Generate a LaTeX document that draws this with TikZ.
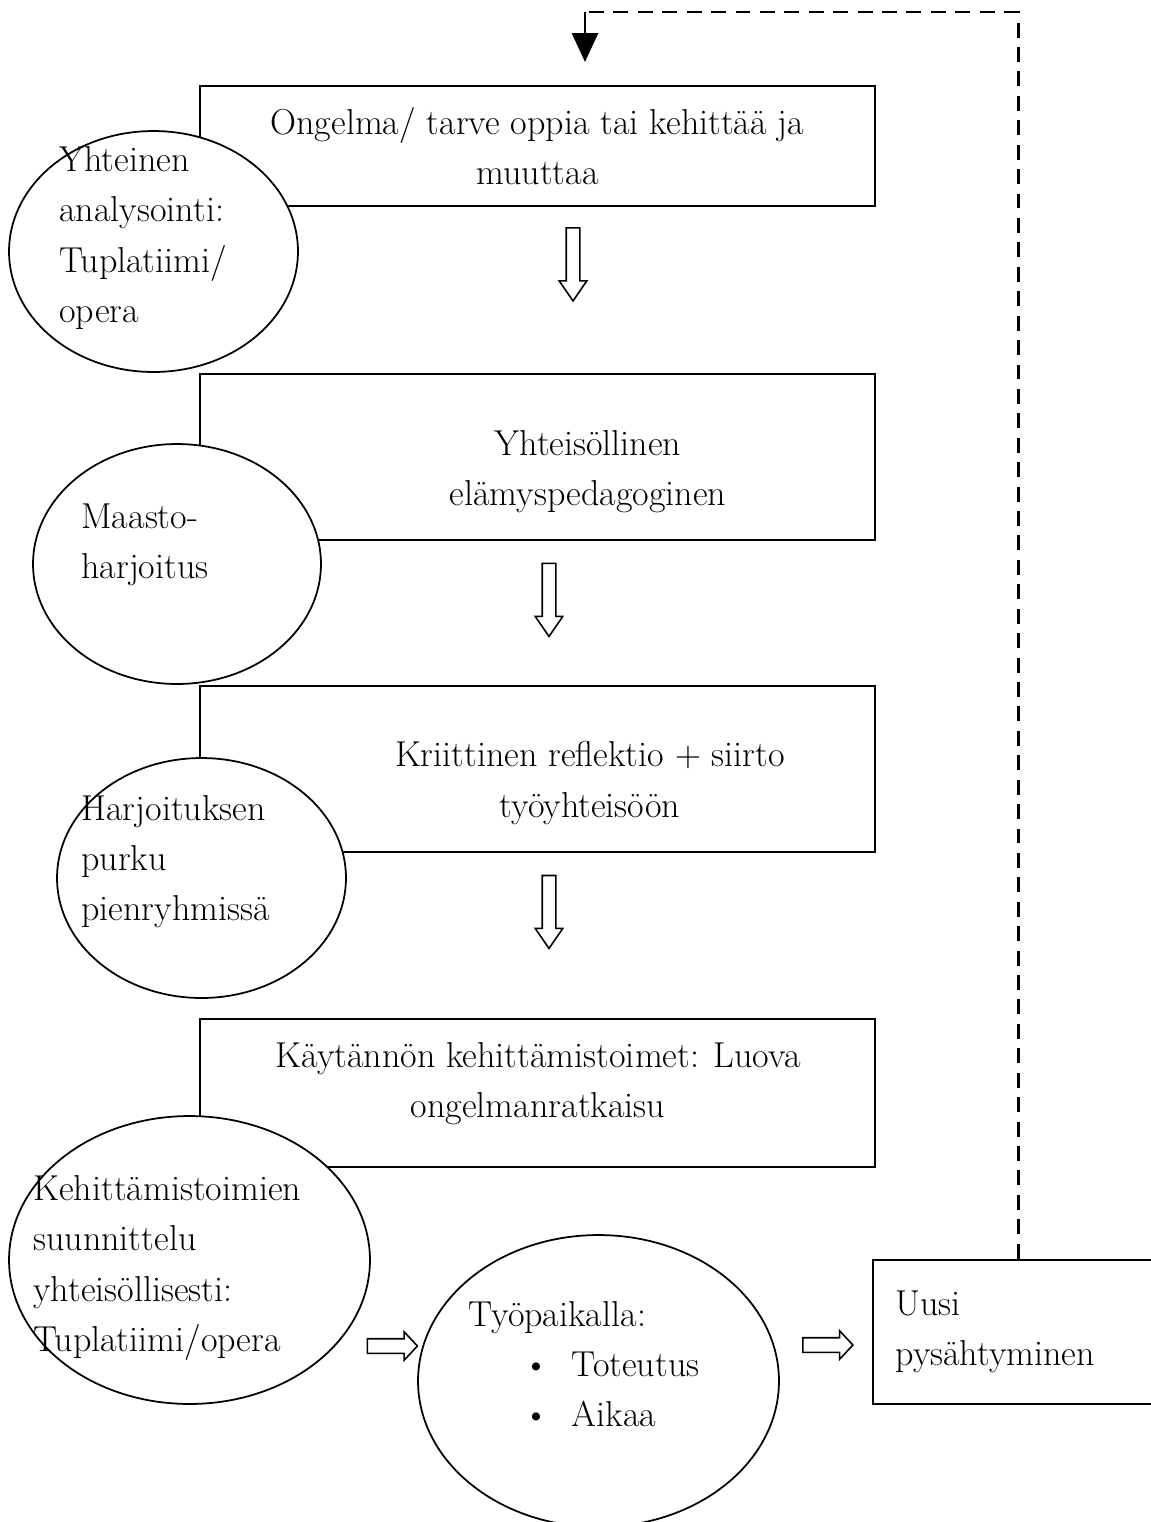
\documentclass[tikz,border=0pt]{standalone}
\usepackage{tikz}
\usetikzlibrary{arrows.meta,positioning,shapes.geometric,shapes.arrows}

\begin{document}
\begin{tikzpicture}[x=0.02cm,y=-0.02cm,font=\fontsize{20.5}{28.5}\selectfont]
\tikzset{
  box/.style={draw,line width=1.6pt,fill=white,inner sep=0pt,align=center,minimum width=13.5cm},
  oval/.style={draw,ellipse,line width=1pt,fill=white,inner sep=0pt},
  txt/.style={align=left,anchor=west,inner sep=0pt},
  midtxt/.style={align=center,inner sep=0pt},
  downarr/.style={single arrow,draw,line width=0.9pt,inner xsep=0pt,inner ysep=0.12cm,single arrow head extend=0.14cm,single arrow tip angle=69,minimum height=1.46cm,rotate=-90},
  rightarr/.style={single arrow,draw,line width=0.9pt,inner xsep=0pt,inner ysep=0.13cm,single arrow head extend=0.14cm,single arrow tip angle=94,minimum height=1cm},
  back/.style={line width=1.7pt,dash pattern=on 8.5pt off 5.4pt},
  arr/.style={-{Triangle[length=5.8mm,width=5.2mm]},line width=1.7pt}
}
\useasboundingbox (0,0) rectangle (1150,1522);

% boxes
\node(b1)[box,minimum height=2.4cm] at (537.5,146) {Ongelma/ tarve oppia tai kehittää ja\\muuttaa};
\node(b2)[box,minimum height=3.32cm] at (537.5,457) {};
\node(b3)[box,minimum height=3.32cm] at (537.5,769) {};
\node(b4)[box,minimum height=2.96cm] at (537.5,1093) {};
\node(b5)[box,minimum width=5.8cm,minimum height=2.88cm,text width=4.9cm,align=left] at (1018,1332) {Uusi\\pysähtyminen};
\node(t2)[midtxt] at (588,472) {Yhteisöllinen\\elämyspedagoginen};
\node(t3)[midtxt] at (590,783) {Kriittinen reflektio + siirto\\työyhteisöön};
\node(t4)[midtxt] at (538,1084) {Käytännön kehittämistoimet: Luova\\ongelmanratkaisu};

% ellipses
\node(e1)[oval,minimum width=5.78cm,minimum height=4.82cm] at (153.5,251.5) {};
\node(e2)[oval,minimum width=5.76cm,minimum height=4.8cm] at (177,564) {};
\node(e3)[oval,minimum width=5.78cm,minimum height=4.8cm] at (201.5,878) {};
\node(e4)[oval,minimum width=7.22cm,minimum height=5.76cm] at (189.5,1260) {};
\node(e5)[oval,minimum width=7.22cm,minimum height=5.84cm] at (598.5,1381) {};
\node(s1)[txt] at (59,238) {Yhteinen\\analysointi:\\Tuplatiimi/\\opera};
\node(s2)[txt] at (81,545) {Maasto-\\harjoitus};
\node(s3)[txt] at (81,862) {Harjoituksen\\purku\\pienryhmissä};
\node(s4)[txt] at (33,1268) {Kehittämistoimien\\suunnittelu\\yhteisöllisesti:\\Tuplatiimi/opera};
\node(s5)[txt] at (468,1364) {Työpaikalla:\\\hspace*{1.1cm}\textbullet\hspace{0.45cm}Toteutus\\\hspace*{1.1cm}\textbullet\hspace{0.45cm}Aikaa};

% hollow arrows
\node(a1)[downarr] at (573,259.5) {};
\node(a2)[downarr] at (549,595) {};
\node(a3)[downarr] at (549,907) {};
\node(a4)[rightarr] at (389,1346) {};
\node(a5)[rightarr] at (824.5,1345) {};

% feedback loop
\coordinate(turn) at (585,12);
\coordinate(tip) at (585,62);
\draw[back](b5.north) |- (turn);
\draw[arr](turn) -- (tip);
\end{tikzpicture}
\end{document}
